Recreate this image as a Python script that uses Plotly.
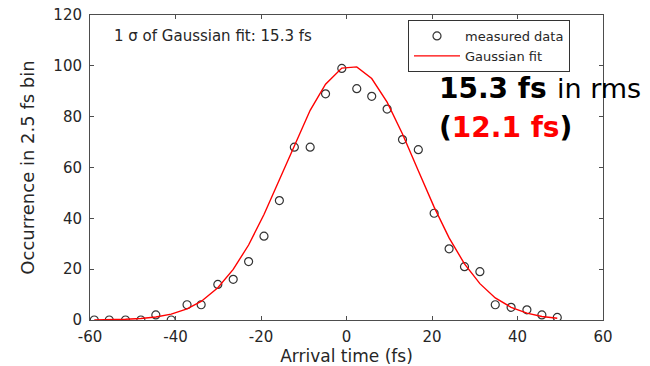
import plotly.graph_objects as go

# Arrival time bins (fs)
arrival_time = [-59.0, -55.5, -51.7, -48.1, -44.6, -41.0, -37.3, -34.0, -30.1, -26.5,
                -22.9, -19.3, -15.7, -12.2, -8.5, -4.9, -1.1, 2.4, 5.9, 9.5,
                13.1, 16.8, 20.5, 24.0, 27.6, 31.2, 34.8, 38.5, 42.2, 45.7, 49.3]
# Measured occurrences
measured = [0, 0, 0, 0, 2, 0, 6, 6, 14, 16,
            23, 33, 47, 68, 68, 89, 99, 91, 88, 83,
            71, 67, 42, 28, 21, 19, 6, 5, 4, 2, 1]
# Gaussian fit values
gauss_fit = [0.05, 0.1, 0.3, 0.6, 1.2, 2.3, 4.4, 7.3, 12.7, 19.9,
             29.5, 41.5, 55.1, 68.9, 82.5, 92.8, 99.1, 99.6, 95.0, 85.7,
             73.2, 58.7, 44.4, 32.3, 22.1, 14.3, 8.7, 5.0, 2.7, 1.4, 0.7]

x_ticks = [-60, -40, -20, 0, 20, 40, 60]
y_ticks = [0, 20, 40, 60, 80, 100, 120]

FONT = "DejaVu Sans"
TXT = "#262626"

L, R, T, B = 90, 47, 15, 46
PW = 650 - L - R
PH = 366 - T - B


def px(xp):
    return (xp - L) / PW


def py(yp):
    return (366 - B - yp) / PH


fig = go.Figure()
fig.add_trace(go.Scatter(
    x=arrival_time, y=measured, mode="markers", name="measured data",
    marker=dict(symbol="circle-open", size=8, color="#333333", line=dict(width=1.2)),
))
fig.add_trace(go.Scatter(
    x=arrival_time, y=gauss_fit, mode="lines", name="Gaussian fit",
    line=dict(color="#ff0000", width=1.4),
))

axis_common = dict(
    showline=True, linecolor="#4d4d4d", linewidth=1, mirror="ticks",
    ticks="inside", ticklen=4, tickcolor="#4d4d4d", tickwidth=1,
    showgrid=False, zeroline=False, automargin=False,
    tickfont=dict(family=FONT, size=15, color=TXT),
)

fig.update_layout(
    width=650, height=366,
    margin=dict(l=L, r=R, t=T, b=B, autoexpand=False),
    paper_bgcolor="white", plot_bgcolor="white",
    xaxis=dict(range=[-60, 60], tickvals=x_ticks, ticktext=[str(v) for v in x_ticks],
               title=dict(text="Arrival time (fs)", font=dict(family=FONT, size=17, color=TXT), standoff=0),
               ticklabelstandoff=3, **axis_common),
    yaxis=dict(range=[0, 120], tickvals=y_ticks, ticktext=[str(v) for v in y_ticks],
               title=dict(text="Occurrence in 2.5 fs bin", font=dict(family=FONT, size=18, color=TXT), standoff=14),
               ticklabelstandoff=4, **axis_common),
    legend=dict(x=px(408), y=py(20), xanchor="left", yanchor="top",
                bgcolor="white", bordercolor="#333333", borderwidth=1,
                font=dict(family=FONT, size=13, color=TXT),
                tracegroupgap=0, itemwidth=46),
    showlegend=True,
)

fig.add_annotation(xref="paper", yref="paper", x=px(112), y=py(36), xanchor="left", yanchor="middle",
                   text="1 σ of Gaussian fit: 15.3 fs", showarrow=False,
                   font=dict(family=FONT, size=15, color=TXT))
fig.add_annotation(xref="paper", yref="paper", x=px(437), y=py(88),
                   xanchor="left", yanchor="middle", showarrow=False,
                   text="<b>15.3 fs</b>",
                   font=dict(family=FONT, size=28, color="black"))
fig.add_annotation(xref="paper", yref="paper", x=px(555), y=py(88),
                   xanchor="left", yanchor="middle", showarrow=False,
                   text="in rms",
                   font=dict(family=FONT, size=27, color="black"))
fig.add_annotation(xref="paper", yref="paper", x=px(437), y=py(128),
                   xanchor="left", yanchor="middle", showarrow=False,
                   text="<b>(<span style='color:#ff0000'>12.1 fs</span>)</b>",
                   font=dict(family=FONT, size=28, color="black"))

fig.write_html("out.html", config={"displayModeBar": False},
               post_script="document.body.style.margin='0';")
